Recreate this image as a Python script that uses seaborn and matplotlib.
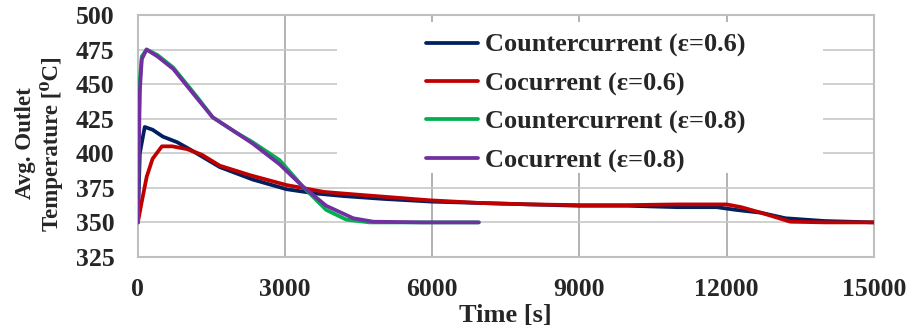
import pandas as pd
import seaborn as sns
import matplotlib.pyplot as plt
from matplotlib.patches import Rectangle

# time [s] and avg outlet temperature [C]
t_cc6 = [0, 40, 140, 300, 510, 800, 1100, 1670, 2340, 3030, 3600, 4200, 5000, 6000, 7000,
         8000, 9000, 10000, 11000, 11800, 12200, 12700, 13200, 14000, 15000]
v_cc6 = [350, 400, 419, 417, 412, 408, 402, 390, 381, 374, 371, 369, 367, 365, 364,
         363, 362, 362, 361, 361, 359, 357, 353, 351, 350]

t_co6 = [0, 80, 180, 300, 490, 700, 1000, 1300, 1670, 2300, 3030, 3800, 4500, 5940, 7000,
         8000, 9000, 10000, 11000, 12000, 12300, 12700, 13300, 14000, 15000]
v_co6 = [350, 365, 383, 396, 405, 405, 403, 399, 391, 384, 377, 372, 370, 366, 364,
         363, 362.5, 362.5, 363, 363, 361, 357, 350.5, 350, 350]

t_cc8 = [0, 20, 40, 80, 177, 400, 720, 1200, 1525, 2000, 2340, 2890, 3360, 3840, 4250, 4720, 5500, 6950]
v_cc8 = [350, 420, 453, 470, 475, 471, 462, 441, 426, 415, 408, 395, 376, 359, 352, 350, 350, 350]

t_co8 = [0, 20, 40, 80, 177, 400, 720, 1200, 1525, 2000, 2340, 2890, 3360, 3840, 4390, 4800, 5800, 6950]
v_co8 = [350, 400, 445, 468, 475, 470, 461, 440, 426, 415, 407, 392, 376, 362, 353, 350.5, 350, 350]

labels = ["Countercurrent (\u03b5=0.6)", "Cocurrent (\u03b5=0.6)",
          "Countercurrent (\u03b5=0.8)", "Cocurrent (\u03b5=0.8)"]
colors = ["#002060", "#c00000", "#00b050", "#7030a0"]

df = pd.concat([
    pd.DataFrame({"t": t_cc6, "T": v_cc6, "case": labels[0]}),
    pd.DataFrame({"t": t_co6, "T": v_co6, "case": labels[1]}),
    pd.DataFrame({"t": t_cc8, "T": v_cc8, "case": labels[2]}),
    pd.DataFrame({"t": t_co8, "T": v_co8, "case": labels[3]}),
])

sns.set_style("white")
plt.rcParams["font.family"] = ["Liberation Serif", "DejaVu Serif"]
plt.rcParams["font.weight"] = "bold"

fig = plt.figure(figsize=(9.13, 3.32), dpi=100)
ax = fig.add_axes([0.151, 0.226, 0.806, 0.729])

sns.lineplot(data=df, x="t", y="T", hue="case", palette=dict(zip(labels, colors)),
             sort=False, linewidth=2.7, ax=ax, zorder=3)

ax.set_xlim(0, 15000)
ax.set_ylim(325, 500)
ax.set_xticks(range(0, 15001, 3000))
ax.set_yticks(range(325, 501, 25))
ax.grid(axis="x", color="#a6a6a6", linewidth=1.2)
ax.grid(axis="y", color="#c8c8c8", linewidth=1.2)
for s in ax.spines.values():
    s.set_color("#bfbfbf")
    s.set_linewidth(1.5)
ax.tick_params(axis="x", length=0, pad=15, labelsize=18.5)
ax.tick_params(axis="y", length=0, pad=17, labelsize=18.5)
for lab in ax.get_xticklabels() + ax.get_yticklabels():
    lab.set_fontweight("bold")

ax.set_xlabel("Time [s]", fontsize=19, fontweight="bold", labelpad=2)
ax.set_ylabel("Avg. Outlet\nTemperature [\u2070C]", fontsize=16.5, fontweight="bold",
              labelpad=9, linespacing=1.2)
ax.yaxis.label.set_y(0.47)

# white legend area like the Excel chart
ax.add_patch(Rectangle((0.270, 0.347), 0.661, 0.624, transform=ax.transAxes,
                       facecolor="white", edgecolor="none", zorder=1))

leg = ax.legend(loc="upper left", bbox_to_anchor=(0.366, 1.0), frameon=False,
                prop={"size": 19, "weight": "bold"}, handlelength=2.0,
                handletextpad=0.25, labelspacing=0.55, borderpad=0.2)
leg.set_zorder(5)

fig.savefig("out.png", dpi=100)
